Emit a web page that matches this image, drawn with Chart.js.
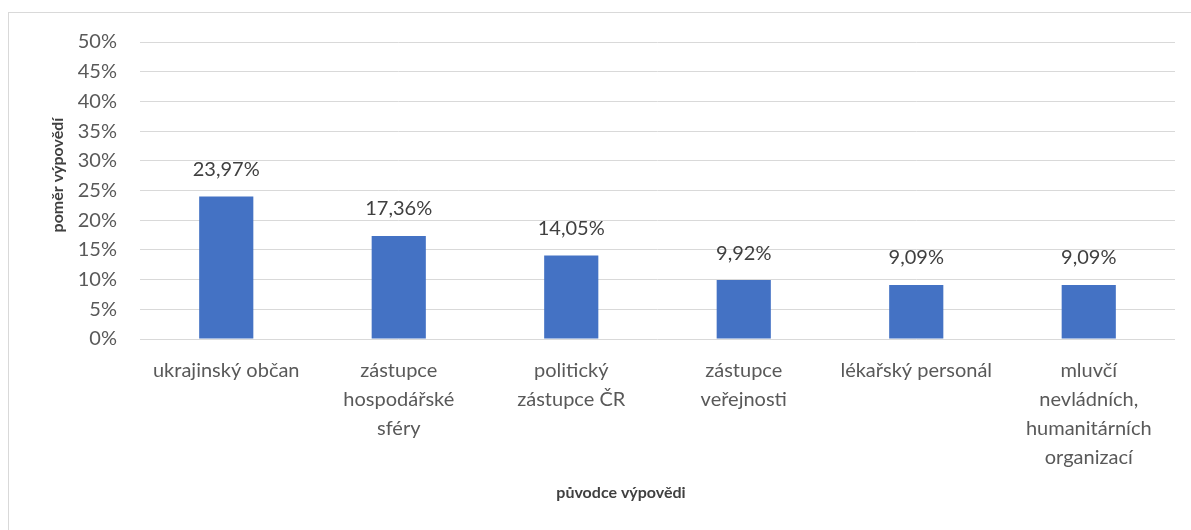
<!DOCTYPE html>
<html>
<head>
<meta charset="utf-8">
<script src="https://cdn.jsdelivr.net/npm/chart.js@4"></script>
<style>
  html, body { margin: 0; padding: 0; background: #fff; }
  #box { position: absolute; left: 8px; top: 12px; width: 1190px; height: 530px;
         border: 1px solid #d9d9d9; box-sizing: border-box; }
  #wrap { position: absolute; left: 0; top: 0; width: 1182px; height: 517px; }
</style>
</head>
<body>
<div id="box"><div id="wrap"><canvas id="barChart"></canvas></div></div>
<script>
var categories = [
    ["ukrajinský občan"],
    ["zástupce", "hospodářské", "sféry"],
    ["politický", "zástupce ČR"],
    ["zástupce", "veřejnosti"],
    ["lékařský personál"],
    ["mluvčí", "nevládních,", "humanitárních", "organizací"]
];
var shares = [23.97, 17.36, 14.05, 9.92, 9.09, 9.09];
var yTicks = [0, 5, 10, 15, 20, 25, 30, 35, 40, 45, 50];
var xTitle = "původce výpovědi";
var yTitle = "poměr výpovědí";

var fontName = "Lato";

// value labels above bars + axis titles
var extras = {
    id: 'extras',
    afterDatasetsDraw: function (chart) {
        var ctx = chart.ctx;
        var meta = chart.getDatasetMeta(0);
        ctx.save();
        ctx.font = '20px ' + fontName;
        ctx.fillStyle = '#404040';
        ctx.textAlign = 'center';
        ctx.textBaseline = 'middle';
        meta.data.forEach(function (bar, i) {
            ctx.fillText(shares[i].toFixed(2).replace('.', ',') + '%', bar.x, bar.y - 27);
        });
        ctx.restore();
    },
    afterDraw: function (chart) {
        var ctx = chart.ctx;
        ctx.save();
        ctx.font = 'bold 16px ' + fontName;
        ctx.fillStyle = '#404040';
        ctx.textAlign = 'center';
        ctx.textBaseline = 'middle';
        ctx.fillText(xTitle, 612, 480);
        ctx.translate(49, 162);
        ctx.rotate(-Math.PI / 2);
        ctx.fillText(yTitle, 0, 0);
        ctx.restore();
    }
};

var ctx = document.getElementById("barChart");
var myChart = new Chart(ctx, {
    type: 'bar',
    data: {
        labels: categories,
        datasets: [{
            data: shares,
            backgroundColor: '#4472C4',
            borderWidth: 0,
            barPercentage: 0.314,
            categoryPercentage: 1
        }]
    },
    options: {
        responsive: true,
        maintainAspectRatio: false,
        animation: false,
        layout: { padding: { top: 29, right: 16, left: 0, bottom: 0 } },
        plugins: {
            legend: { display: false },
            tooltip: { enabled: false }
        },
        scales: {
            x: {
                grid: { display: false, drawTicks: false },
                border: { display: false },
                ticks: {
                    color: '#595959',
                    font: { family: fontName, size: 20, lineHeight: '29px' },
                    padding: 17,
                    autoSkip: false,
                    maxRotation: 0
                },
                afterFit: function (scale) { scale.height = 191; }
            },
            y: {
                min: 0,
                max: 50,
                afterBuildTicks: function (scale) {
                    scale.ticks = yTicks.map(function (v) { return { value: v }; });
                },
                grid: { color: '#d9d9d9', lineWidth: 1, drawTicks: false },
                border: { display: false },
                ticks: {
                    color: '#595959',
                    font: { family: fontName, size: 20 },
                    padding: 23,
                    callback: function (v) { return v + '%'; }
                },
                afterFit: function (scale) {
                    scale.width = 131;
                    scale.paddingTop = 0;
                    scale.paddingBottom = 0;
                }
            }
        }
    },
    plugins: [extras]
});
</script>
</body>
</html>
